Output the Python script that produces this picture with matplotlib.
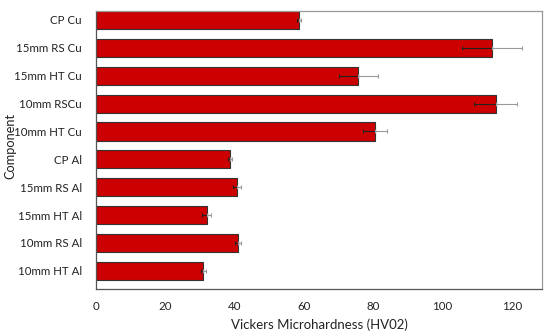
import numpy as np
import matplotlib
matplotlib.use('Agg')
import matplotlib.pyplot as plt

plt.rcParams['font.family'] = ['Lato', 'DejaVu Sans']

components = ['10mm HT Al', '10mm RS Al', '15mm HT Al', '15mm RS Al', 'CP Al',
              '10mm HT Cu', '10mm RSCu', '15mm HT Cu', '15mm RS Cu', 'CP Cu']
hardness = [31.0, 40.9, 31.9, 40.7, 38.7, 80.5, 115.3, 75.7, 114.2, 58.6]
err = [0.6, 0.8, 1.2, 1.1, 0.5, 3.4, 6.3, 5.7, 8.6, 0.7]

fig = plt.figure(figsize=(5.5, 3.36), dpi=100)
ax = fig.add_axes([96/550, 1-289/336, 446/550, 278/336])

y = np.arange(len(components))
ax.barh(y, hardness, height=0.65, color='#CC0000', edgecolor='#333333', linewidth=0.8, zorder=2)
zeros = [0]*len(err)
ax.errorbar(hardness, y, xerr=[err, zeros], fmt='none', ecolor='#222222',
            elinewidth=0.8, capsize=1.5, capthick=0.8, zorder=3)
ax.errorbar(hardness, y, xerr=[zeros, err], fmt='none', ecolor='#999999',
            elinewidth=0.8, capsize=1.5, capthick=0.8, zorder=3)

ax.set_xlim(0, 128.7)
ax.set_ylim(-0.65, 9.32)
ax.set_xticks([0, 20, 40, 60, 80, 100, 120])
ax.set_yticks(y)
ax.set_yticklabels(components)
ax.tick_params(length=0, labelsize=8.3, colors='#222222', pad=10)
ax.tick_params(axis='x', pad=9)

ax.spines['left'].set_color('#555555')
ax.spines['bottom'].set_color('#555555')
ax.spines['top'].set_color('#999999')
ax.spines['right'].set_color('#999999')
for s in ax.spines.values():
    s.set_linewidth(0.9)

ax.set_xlabel('Vickers Microhardness (HV02)', fontsize=9.5, color='#222222', labelpad=4)
ax.set_ylabel('Component', fontsize=9.2, color='#222222')
ax.yaxis.set_label_coords(-0.178, 0.514)

fig.savefig('out.png', dpi=100)
